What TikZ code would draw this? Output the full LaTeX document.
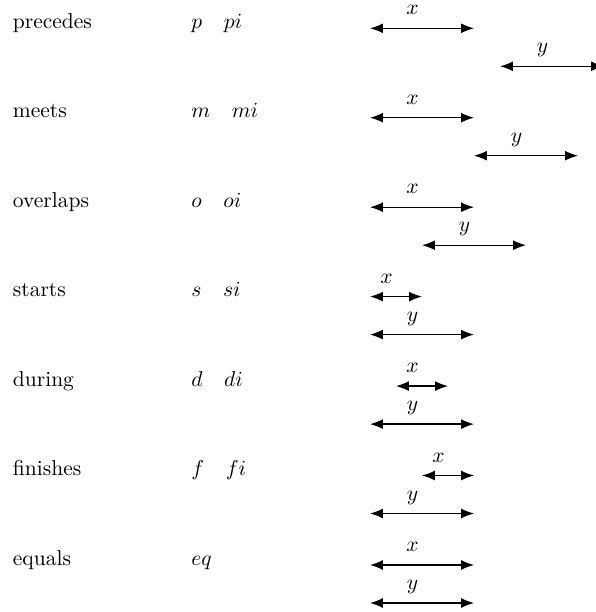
\documentclass[tikz,border=0pt]{standalone}
\usepackage{amsmath,amssymb}
\usepackage{tikz}
\usetikzlibrary{arrows.meta,calc}

\begin{document}
\begin{tikzpicture}[
    x=0.465pt, y=-0.465pt,
    relname/.style={anchor=base west, inner sep=0pt},
    relsym/.style={anchor=base west, inner sep=0pt},
    interval/.style={{Latex[length=6pt,width=4.6pt]}-{Latex[length=6pt,width=4.6pt]}, line width=0.6pt},
    lab/.style={anchor=base, inner sep=0pt, yshift=6.2pt, xshift=-4.4pt},
]
\useasboundingbox (0,0) rectangle (595,612);

% --- precedes ---
\node[relname] (pname) at (12.5,28.3) {precedes};
\node[relsym]  (psym)  at (191,28.3) {$p \quad pi$};
\coordinate (px1) at (370,28.3);  \coordinate (px2) at (474,28.3);
\coordinate (py1) at (500,66.3);  \coordinate (py2) at (604,66.3);
\draw[interval] (px1) -- node[lab] {$x$} (px2);
\draw[interval] (py1) -- node[lab] {$y$} (py2);

% --- meets ---
\node[relname] (mname) at (12.5,117.7) {meets};
\node[relsym]  (msym)  at (191,117.7) {$m \quad mi$};
\coordinate (mx1) at (370,117.7); \coordinate (mx2) at (474,117.7);
\coordinate (my1) at (474,155.7); \coordinate (my2) at (578,155.7);
\draw[interval] (mx1) -- node[lab] {$x$} (mx2);
\draw[interval] (my1) -- node[lab] {$y$} (my2);

% --- overlaps ---
\node[relname] (oname) at (12.5,207.2) {overlaps};
\node[relsym]  (osym)  at (191,207.2) {$o \quad oi$};
\coordinate (ox1) at (370,207.2); \coordinate (ox2) at (474,207.2);
\coordinate (oy1) at (422,245.2); \coordinate (oy2) at (526,245.2);
\draw[interval] (ox1) -- node[lab] {$x$} (ox2);
\draw[interval] (oy1) -- node[lab] {$y$} (oy2);

% --- starts ---
\node[relname] (sname) at (12.5,296.6) {starts};
\node[relsym]  (ssym)  at (191,296.6) {$s \quad si$};
\coordinate (sx1) at (370,296.6); \coordinate (sx2) at (422,296.6);
\coordinate (sy1) at (370,334.6); \coordinate (sy2) at (474,334.6);
\draw[interval] (sx1) -- node[lab] {$x$} (sx2);
\draw[interval] (sy1) -- node[lab] {$y$} (sy2);

% --- during ---
\node[relname] (dname) at (12.5,386.1) {during};
\node[relsym]  (dsym)  at (191,386.1) {$d \quad di$};
\coordinate (dx1) at (396,386.1); \coordinate (dx2) at (448,386.1);
\coordinate (dy1) at (370,424.1); \coordinate (dy2) at (474,424.1);
\draw[interval] (dx1) -- node[lab] {$x$} (dx2);
\draw[interval] (dy1) -- node[lab] {$y$} (dy2);

% --- finishes ---
\node[relname] (fname) at (12.5,475.5) {finishes};
\node[relsym]  (fsym)  at (191,475.5) {$f \quad fi$};
\coordinate (fx1) at (422,475.5); \coordinate (fx2) at (474,475.5);
\coordinate (fy1) at (370,513.5); \coordinate (fy2) at (474,513.5);
\draw[interval] (fx1) -- node[lab] {$x$} (fx2);
\draw[interval] (fy1) -- node[lab] {$y$} (fy2);

% --- equals ---
\node[relname] (ename) at (12.5,565) {equals};
\node[relsym]  (esym)  at (191,565) {$eq$};
\coordinate (ex1) at (370,565); \coordinate (ex2) at (474,565);
\coordinate (ey1) at (370,603); \coordinate (ey2) at (474,603);
\draw[interval] (ex1) -- node[lab] {$x$} (ex2);
\draw[interval] (ey1) -- node[lab] {$y$} (ey2);

\end{tikzpicture}
\end{document}
